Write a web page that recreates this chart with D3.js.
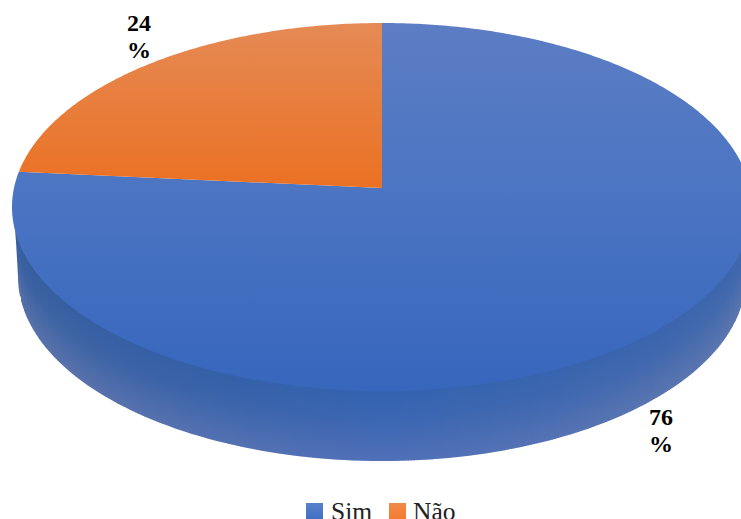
<!DOCTYPE html>
<html><head><meta charset="utf-8">
<script src="https://cdn.jsdelivr.net/npm/d3@7/dist/d3.min.js"></script>
<style>html,body{margin:0;padding:0;background:#fff;overflow:hidden}svg{display:block}</style>
</head><body><div id="c"></div>
<script>
const categories = ["Sim", "Não"];
const values = [76, 24];
const labelLines = [["76", "%"], ["24", "%"]];
const W = 741, H = 519;
const topFace = {cx: 382, cy: 207, rx: 370, ry: 184};
const seam = {cx: 382, cy: 207, rx: 368, ry: 182};
const baseFace = {cx: 382, cy: 277, rx: 364, ry: 184};
const apexY = 188;
const a = -0.13; // perspective shift of the rim

const svg = d3.select("#c").append("svg").attr("width", W).attr("height", H);
const defs = svg.append("defs");
function grad(id, stops) {
  const g = defs.append("linearGradient").attr("id", id)
    .attr("x1", 0).attr("y1", 0).attr("x2", 0).attr("y2", 1);
  stops.forEach(s => g.append("stop").attr("offset", s[0]).attr("stop-color", s[1]));
  return g;
}
grad("topBlue", [[0, "#5c7dc4"], [0.5, "#4a74c2"], [1, "#3766bd"]]);
grad("topOrange", [[0, "#e58a55"], [1, "#eb7123"]]);
grad("legBlue", [[0, "#5a80cb"], [1, "#3f6fc3"]]);
grad("legOrange", [[0, "#f08a4a"], [1, "#f57b2e"]]);

// Sim starts at 12 o'clock and runs clockwise
const arcs = d3.pie().value(d => d).sort(null).startAngle(0).endAngle(2 * Math.PI)(values);

// projective map of the flat disc onto the tilted, perspective top face
function project(theta) {
  const u = Math.sin(theta), v = -Math.cos(theta);
  const d = 1 + a * v;
  return [topFace.cx + topFace.rx * u * Math.sqrt(1 - a * a) / d, topFace.cy + topFace.ry * (v + a) / d];
}
const line = d3.line();
function slicePath(arc) {
  const n = Math.max(8, Math.ceil((arc.endAngle - arc.startAngle) * 90));
  const ts = d3.range(n + 1).map(i => arc.startAngle + (arc.endAngle - arc.startAngle) * i / n);
  return line([[topFace.cx, apexY], ...ts.map(project)]) + "Z";
}
const ell = (e, t) => [e.cx + e.rx * Math.cos(t), e.cy + e.ry * Math.sin(t)];
const span = (e, t0, t1) => d3.range(121).map(i => ell(e, t0 + (t1 - t0) * i / 120));
const lowerY = (e, x) => {
  const k = (x - e.cx) / e.rx;
  return Math.abs(k) >= 1 ? e.cy : e.cy + e.ry * Math.sqrt(1 - k * k);
};

// side wall: shaded column by column from the rim down to the base
const wallPts = [...span(seam, 0, Math.PI), ...span(baseFace, Math.PI, 0)];
defs.append("clipPath").attr("id", "wallClip").append("path").attr("d", line(wallPts) + "Z");
const wallTop = d3.scaleLinear().domain([0, 382, 741]).range(["#365e9f", "#3563b0", "#3d66ad"]);
const wallBot = d3.scaleLinear().domain([0, 382, 741]).range(["#5a72a8", "#5070b8", "#5c76ae"]);
const wall = svg.append("g").attr("clip-path", "url(#wallClip)");
d3.range(0, W, 3).forEach(x => {
  const y0 = lowerY(seam, x + 1.5), y1 = Math.max(lowerY(baseFace, x + 1.5), y0 + 1);
  const g = defs.append("linearGradient").attr("id", "w" + x).attr("gradientUnits", "userSpaceOnUse")
    .attr("x1", 0).attr("x2", 0).attr("y1", y0).attr("y2", y1);
  g.append("stop").attr("offset", 0.05).attr("stop-color", wallTop(x));
  g.append("stop").attr("offset", 0.4).attr("stop-color", d3.interpolateRgb(wallTop(x), wallBot(x))(0.2));
  g.append("stop").attr("offset", 1).attr("stop-color", wallBot(x));
  wall.append("rect").attr("x", x).attr("width", 3.5).attr("y", y0 - 3).attr("height", y1 - y0 + 6).attr("fill", `url(#w${x})`);
});

// top face
const fills = ["url(#topBlue)", "url(#topOrange)"];
svg.append("g").selectAll("path").data(arcs).join("path")
  .attr("d", slicePath).attr("fill", (d, i) => fills[i]);

// data labels
const labelPos = [[661, 425], [139, 31]];
const lab = svg.append("g").attr("font-family", "'Liberation Serif', serif")
  .attr("font-weight", "bold").attr("font-size", 24).attr("fill", "#000").attr("text-anchor", "middle");
labelLines.forEach((ls, i) => ls.forEach((t, j) => {
  lab.append("text").attr("x", labelPos[i][0]).attr("y", labelPos[i][1] + j * 27).text(t);
}));

// legend
const legX = [306, 389], txtX = [331, 413], legFill = ["url(#legBlue)", "url(#legOrange)"];
const leg = svg.append("g");
categories.forEach((c, i) => {
  leg.append("rect").attr("x", legX[i]).attr("y", 503).attr("width", 17).attr("height", 17).attr("fill", legFill[i]);
  leg.append("text").attr("x", txtX[i]).attr("y", 520).attr("font-family", "'Liberation Serif', serif")
    .attr("font-size", 25.5).attr("fill", "#222").text(c);
});
</script></body></html>
